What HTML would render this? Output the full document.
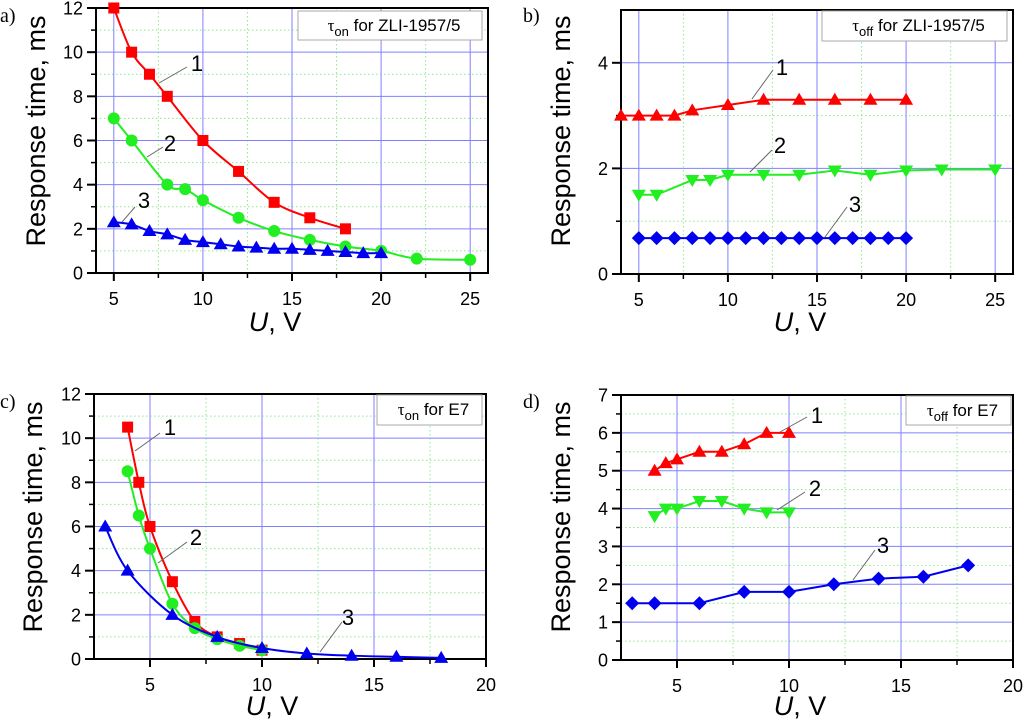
<!DOCTYPE html>
<html><head><meta charset="utf-8"><style>
html,body{margin:0;padding:0;background:#fff;}
svg{display:block;font-family:"Liberation Sans",Arial,sans-serif;}
</style></head><body>
<svg id="fig" width="1024" height="722" viewBox="0 0 1024 722" xmlns="http://www.w3.org/2000/svg"></svg>
<script>
// Panel a
const aX1=[5,6,7,8,10,12,14,16,18];
const aY1=[12,10,9,8,6,4.6,3.2,2.5,2.0];
const aX2=[5,6,8,9,10,12,14,16,18,20,22,25];
const aY2=[7,6,4,3.8,3.3,2.5,1.9,1.5,1.2,1.0,0.65,0.6];
const aX3=[5,6,7,8,9,10,11,12,13,14,15,16,17,18,19,20];
const aY3=[2.3,2.2,1.9,1.75,1.5,1.4,1.3,1.2,1.15,1.1,1.1,1.05,1.0,0.95,0.9,0.9];
// Panel b
const bX1=[4,5,6,7,8,10,12,14,16,18,20];
const bY1=[3.0,3.0,3.0,3.0,3.1,3.2,3.3,3.3,3.3,3.3,3.3];
const bX2=[5,6,8,9,10,12,14,16,18,20,22,25];
const bY2=[1.5,1.5,1.78,1.78,1.88,1.88,1.88,1.96,1.88,1.96,1.98,1.98];
const bX3=[5,6,7,8,9,10,11,12,13,14,15,16,17,18,19,20];
const bY3=[0.68,0.68,0.68,0.68,0.68,0.68,0.68,0.68,0.68,0.68,0.68,0.68,0.68,0.68,0.68,0.68];
// Panel c
const cX1=[4,4.5,5,6,7,8,9,10];
const cY1=[10.5,8,6,3.5,1.7,1.0,0.7,0.4];
const cX2=[4,4.5,5,6,7,8,9,10];
const cY2=[8.5,6.5,5,2.5,1.4,0.9,0.6,0.4];
const cX3=[3,4,6,8,10,12,14,16,18];
const cY3=[6,4,2,1,0.5,0.25,0.15,0.1,0.05];
// Panel d
const dX1=[4,4.5,5,6,7,8,9,10];
const dY1=[5.0,5.2,5.3,5.5,5.5,5.7,6.0,6.0];
const dX2=[4,4.5,5,6,7,8,9,10];
const dY2=[3.8,4.0,4.0,4.2,4.2,4.0,3.9,3.9];
const dX3=[3,4,6,8,10,12,14,16,18];
const dY3=[1.5,1.5,1.5,1.8,1.8,2.0,2.15,2.2,2.5];
// ticks
const xTicksAB=[5,10,15,20,25];
const xTicksCD=[5,10,15,20];
const yTicksA=[0,2,4,6,8,10,12];
const yTicksB=[0,2,4];
const yTicksD=[0,1,2,3,4,5,6,7];

const NS="http://www.w3.org/2000/svg";
const svg=document.getElementById('fig');
function el(tag,attrs,parent){const e=document.createElementNS(NS,tag);for(const k in attrs)e.setAttribute(k,attrs[k]);(parent||svg).appendChild(e);return e;}
function spline(pts){
  if(pts.length<2)return '';
  let d='M'+pts[0][0]+','+pts[0][1];
  for(let i=0;i<pts.length-1;i++){
    const p0=pts[Math.max(0,i-1)],p1=pts[i],p2=pts[i+1],p3=pts[Math.min(pts.length-1,i+2)];
    const c1=[p1[0]+(p2[0]-p0[0])/6,p1[1]+(p2[1]-p0[1])/6];
    const c2=[p2[0]-(p3[0]-p1[0])/6,p2[1]-(p3[1]-p1[1])/6];
    d+=' C'+c1[0]+','+c1[1]+' '+c2[0]+','+c2[1]+' '+p2[0]+','+p2[1];
  }
  return d;
}
function marker(g,type,x,y,color){
  let m;
  if(type==='sq')m=el('rect',{x:x-5.5,y:y-5.5,width:11,height:11,fill:color},g);
  else if(type==='ci')m=el('circle',{cx:x,cy:y,r:6,fill:color},g);
  else if(type==='up')m=el('polygon',{points:`${x},${y-7} ${x+7},${y+5} ${x-7},${y+5}`,fill:color},g);
  else if(type==='dn')m=el('polygon',{points:`${x},${y+7} ${x+7},${y-5} ${x-7},${y-5}`,fill:color},g);
  else m=el('polygon',{points:`${x},${y-7} ${x+7},${y} ${x},${y+7} ${x-7},${y}`,fill:color},g);
  return m;
}
function panel(cfg){
  const {name,L,R,T,B,xmin,xmax,ymin,ymax,xt,xminor,yt,yminor,series,legend,sub,letter,labels}=cfg;
  const g=el('g',{});
  
  
  const sx=v=>L+(v-xmin)/(xmax-xmin)*(R-L);
  const sy=v=>B-(v-ymin)/(ymax-ymin)*(B-T);
  xminor.forEach(v=>{el('line',{x1:sx(v),x2:sx(v),y1:T,y2:B,stroke:'#8fe88f','stroke-width':1,'stroke-dasharray':'1.5,2.5'},g);});
  yminor.forEach(v=>{el('line',{x1:L,x2:R,y1:sy(v),y2:sy(v),stroke:'#8fe88f','stroke-width':1,'stroke-dasharray':'1.5,2.5'},g);});
  xt.forEach(v=>{if(v>xmin&&v<xmax)el('line',{x1:sx(v),x2:sx(v),y1:T,y2:B,stroke:'#8080ff','stroke-width':1},g);});
  yt.forEach(v=>{if(v>ymin&&v<ymax)el('line',{x1:L,x2:R,y1:sy(v),y2:sy(v),stroke:'#8080ff','stroke-width':1},g);});
  el('rect',{x:L,y:T,width:R-L,height:B-T,fill:'none',stroke:'#000','stroke-width':2},g);
  xt.forEach(v=>{el('line',{x1:sx(v),x2:sx(v),y1:B,y2:B+8,stroke:'#000','stroke-width':2},g);
    const t=el('text',{x:sx(v),y:B+32,'font-size':18,'text-anchor':'middle'},g);t.textContent=v;
    });
  xminor.forEach(v=>{el('line',{x1:sx(v),x2:sx(v),y1:B,y2:B+5,stroke:'#000','stroke-width':1.5},g);});
  yt.forEach(v=>{el('line',{x1:L-9,x2:L,y1:sy(v),y2:sy(v),stroke:'#000','stroke-width':2},g);
    const t=el('text',{x:L-13,y:sy(v)+6.5,'font-size':18,'text-anchor':'end'},g);t.textContent=v;
    });
  yminor.forEach(v=>{el('line',{x1:L-5,x2:L,y1:sy(v),y2:sy(v),stroke:'#000','stroke-width':1.5},g);});
  series.forEach((s,i)=>{
    const sg=el('g',{},g);
    
    
    const pts=s.x.map((v,j)=>[sx(v),sy(s.y[j])]);
    const d=s.smooth?spline(pts):'M'+pts.map(p=>p.join(',')).join(' L');
    el('path',{d:d,fill:'none',stroke:s.color,'stroke-width':2},sg);
    pts.forEach(p=>{const m=marker(sg,s.m,p[0],p[1],s.color);
      });
  });
  labels.forEach(lb=>{
    el('line',{x1:lb.l[0],y1:lb.l[1],x2:lb.l[2],y2:lb.l[3],stroke:'#666','stroke-width':1},g);
    const t=el('text',{x:lb.x,y:lb.y,'font-size':22,'text-anchor':'middle'},g);t.textContent=lb.t;
    
  });
  const lg=el('g',{},g);
  
  el('rect',{x:legend[0],y:legend[1],width:legend[2]-legend[0],height:legend[3]-legend[1],fill:'#fff',stroke:'#aaa','stroke-width':1},lg);
  const lt=el('text',{x:(legend[0]+legend[2])/2+4,y:legend[1]+20,'font-size':17,'text-anchor':'middle'},lg);
  lt.innerHTML='<tspan font-family="Liberation Serif">τ</tspan><tspan dy="5" font-size="13">'+sub+'</tspan><tspan dy="-5"> '+cfg.legendText+'</tspan>';
  const pl=el('text',{x:letter[0],y:letter[1],'font-size':20,'font-family':'Liberation Serif'},g);pl.textContent=letter[2];
  
  const yt2=el('text',{x:0,y:0,'font-size':27,'text-anchor':'middle',transform:`translate(${cfg.ytitle[0]},${cfg.ytitle[1]}) rotate(-90)`},g);
  yt2.textContent='Response time, ms';
  
  const xt2=el('text',{x:cfg.xtitle[0],y:cfg.xtitle[1],'font-size':27,'text-anchor':'middle'},g);
  xt2.innerHTML='<tspan font-style="italic">U</tspan>, V';
  
}
const R_='#ff0000',G_='#22ee22',B_='#0000ee';
panel({name:'panel-a',L:96,R:488,T:8,B:273,xmin:4,xmax:26,ymin:0,ymax:12,xt:xTicksAB,xminor:[7.5,12.5,17.5,22.5],yt:yTicksA,yminor:[1,3,5,7,9,11],
  series:[{x:aX1,y:aY1,color:R_,m:'sq',smooth:true},{x:aX2,y:aY2,color:G_,m:'ci',smooth:true},{x:aX3,y:aY3,color:B_,m:'up',smooth:true}],
  legend:[298,11,482,40],sub:'on',legendText:'for ZLI-1957/5',letter:[0,22,'a)'],ytitle:[45,131],xtitle:[275,331],
  labels:[{t:'1',x:197,y:71,l:[159,83,187,67]},{t:'2',x:170,y:151,l:[147,157,163,147]},{t:'3',x:144,y:208,l:[122,222,135,207]}]});
panel({name:'panel-b',L:621,R:1013,T:10,B:274,xmin:4,xmax:26,ymin:0,ymax:5,xt:xTicksAB,xminor:[7.5,12.5,17.5,22.5],yt:yTicksB,yminor:[1,3],
  series:[{x:bX1,y:bY1,color:R_,m:'up'},{x:bX2,y:bY2,color:G_,m:'dn'},{x:bX3,y:bY3,color:B_,m:'di'}],
  legend:[822,11,1007,41],sub:'off',legendText:'for ZLI-1957/5',letter:[523,22,'b)'],ytitle:[570,131],xtitle:[800,331],
  labels:[{t:'1',x:782,y:75,l:[752,99,773,70]},{t:'2',x:780,y:153,l:[750,172,772,150]},{t:'3',x:855,y:212,l:[825,237,847,207]}]});
panel({name:'panel-c',L:94,R:486,T:394,B:659,xmin:2.5,xmax:20,ymin:0,ymax:12,xt:xTicksCD,xminor:[7.5,12.5,17.5],yt:yTicksA,yminor:[1,3,5,7,9,11],
  series:[{x:cX1,y:cY1,color:R_,m:'sq',smooth:true},{x:cX2,y:cY2,color:G_,m:'ci',smooth:true},{x:cX3,y:cY3,color:B_,m:'up',smooth:true}],
  legend:[377,395,482,425],sub:'on',legendText:'for E7',letter:[0,408,'c)'],ytitle:[42,517],xtitle:[272,715],
  labels:[{t:'1',x:170,y:435,l:[135,451,160,433]},{t:'2',x:196,y:545,l:[158,563,187,542]},{t:'3',x:348,y:625,l:[320,652,342,622]}]});
panel({name:'panel-d',L:621,R:1013,T:395,B:660,xmin:2.5,xmax:20,ymin:0,ymax:7,xt:xTicksCD,xminor:[7.5,12.5,17.5],yt:yTicksD,yminor:[0.5,1.5,2.5,3.5,4.5,5.5,6.5],
  series:[{x:dX1,y:dY1,color:R_,m:'up'},{x:dX2,y:dY2,color:G_,m:'dn'},{x:dX3,y:dY3,color:B_,m:'di'}],
  legend:[906,396,1011,425],sub:'off',legendText:'for E7',letter:[523,408,'d)'],ytitle:[570,517],xtitle:[800,715],
  labels:[{t:'1',x:817,y:423,l:[780,432,807,417]},{t:'2',x:815,y:496,l:[777,510,805,492]},{t:'3',x:883,y:553,l:[853,580,875,550]}]});
</script>
</body></html>
